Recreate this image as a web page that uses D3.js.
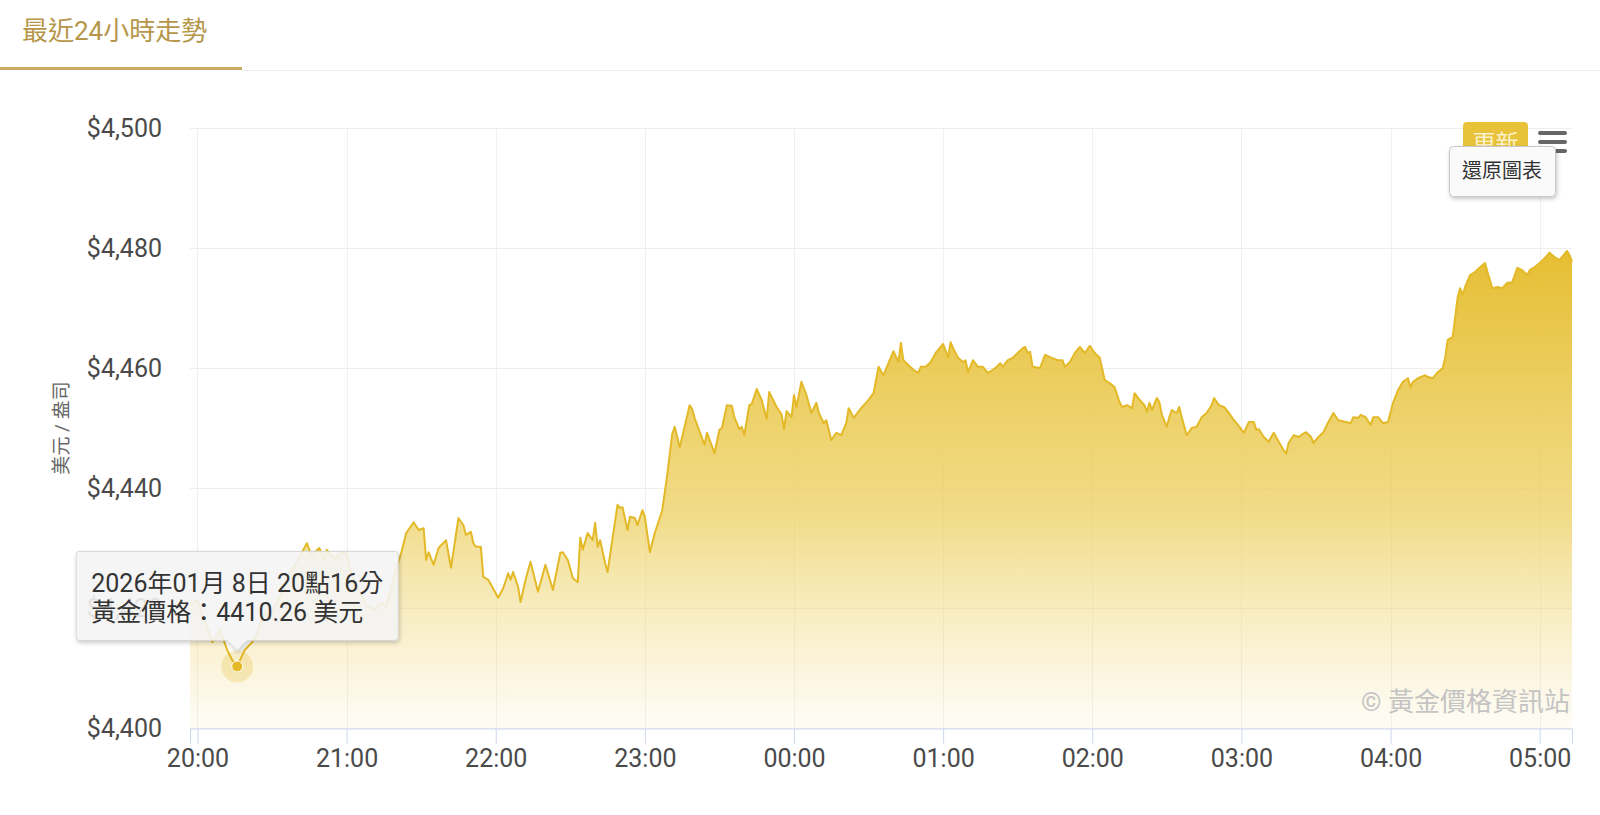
<!DOCTYPE html>
<html>
<head>
<meta charset="utf-8">
<script src="https://cdn.jsdelivr.net/npm/d3@7"></script>
<style>
  body { margin: 0; background: #fff; }
  svg text { font-family: Roboto, "Noto Sans CJK TC", sans-serif; }
</style>
</head>
<body>
<div id="chart"></div>
<script>
// gold price, last 24h view (zoomed to 19:57 - 05:13)
var times = [
  "19:57","20:00","20:02","20:04","20:06","20:09","20:12","20:14","20:16","20:19",
  "20:22","20:24","20:27","20:29","20:33","20:35","20:37","20:40","20:43","20:44",
  "20:46","20:49","20:51","20:52","20:55","20:58","21:00","21:02","21:05","21:08",
  "21:11","21:14","21:16","21:19","21:22","21:24","21:27","21:29","21:31","21:32",
  "21:33","21:35","21:37","21:40","21:42","21:45","21:47","21:48","21:50","21:51",
  "21:52","21:54","21:55","21:57","22:01","22:03","22:05","22:06","22:07","22:09",
  "22:10","22:12","22:14","22:17","22:20","22:23","22:26","22:27","22:29","22:31",
  "22:33","22:34","22:35","22:37","22:39","22:40","22:41","22:42","22:44","22:45",
  "22:49","22:50","22:51","22:53","22:54","22:56","22:57","22:59","23:00","23:02",
  "23:04","23:07","23:09","23:11","23:12","23:14","23:16","23:18","23:19","23:20",
  "23:24","23:25","23:28","23:30","23:31","23:33","23:35","23:36","23:38","23:39",
  "23:40","23:42","23:43","23:45","23:47","23:49","23:50","23:53","23:55","23:56",
  "23:57","23:59","00:00","00:01","00:03","00:05","00:07","00:09","00:10","00:12",
  "00:13","00:15","00:17","00:19","00:21","00:22","00:24","00:27","00:30","00:32",
  "00:34","00:36","00:40","00:42","00:43","00:44","00:46","00:48","00:50","00:51",
  "00:53","00:55","00:57","00:59","01:00","01:02","01:03","01:04","01:06","01:08",
  "01:09","01:10","01:12","01:14","01:16","01:18","01:20","01:21","01:23","01:24",
  "01:26","01:28","01:30","01:32","01:33","01:34","01:35","01:36","01:39","01:41",
  "01:43","01:46","01:48","01:49","01:51","01:53","01:55","01:57","01:59","02:01",
  "02:03","02:05","02:07","02:09","02:11","02:12","02:14","02:16","02:17","02:19",
  "02:21","02:22","02:23","02:24","02:26","02:27","02:28","02:30","02:31","02:32",
  "02:34","02:35","02:36","02:38","02:40","02:42","02:44","02:46","02:48","02:49",
  "02:51","02:53","02:55","02:57","02:59","03:01","03:03","03:05","03:06","03:07",
  "03:09","03:11","03:12","03:13","03:15","03:17","03:18","03:19","03:21","03:23",
  "03:24","03:26","03:28","03:29","03:31","03:33","03:35","03:37","03:39","03:42",
  "03:44","03:45","03:47","03:48","03:50","03:52","03:53","03:55","03:57","03:59",
  "04:01","04:03","04:05","04:07","04:08","04:09","04:11","04:14","04:15","04:17",
  "04:19","04:21","04:22","04:23","04:25","04:26","04:27","04:28","04:29","04:30",
  "04:32","04:34","04:36","04:38","04:39","04:41","04:43","04:45","04:47","04:49",
  "04:51","04:53","04:55","04:56","04:58","05:00","05:02","05:04","05:06","05:08",
  "05:09","05:11","05:12","05:13"
];

var prices = [
  4420.5,4421.3,4418.8,4416.7,4414.3,4416.3,4413.0,4411.3,4410.26,4413.0,
  4414.3,4415.8,4419.3,4418.3,4421.7,4423.8,4425.8,4427.7,4430.0,4430.8,
  4428.7,4430.0,4428.0,4429.7,4428.3,4429.3,4429.2,4425.5,4423.0,4420.5,
  4419.7,4420.8,4420.3,4425.2,4429.2,4432.5,4434.3,4433.0,4433.3,4428.0,
  4429.3,4427.2,4430.0,4431.3,4426.7,4435.0,4433.8,4432.2,4432.7,4430.8,
  4430.2,4430.2,4425.2,4424.7,4421.7,4423.3,4425.8,4424.7,4426.0,4423.5,
  4421.0,4424.7,4427.7,4422.7,4427.2,4423.0,4429.2,4429.3,4428.0,4425.0,
  4424.3,4431.7,4429.7,4432.5,4431.3,4434.2,4430.2,4431.3,4427.5,4426.0,
  4437.2,4436.7,4436.8,4433.0,4435.2,4435.0,4433.8,4436.3,4435.2,4429.3,
  4432.5,4436.3,4442.2,4449.0,4450.2,4446.8,4450.2,4453.8,4453.2,4451.7,
  4447.2,4449.2,4445.8,4449.7,4450.0,4453.8,4453.7,4451.8,4449.8,4450.2,
  4448.8,4453.8,4454.0,4456.5,4454.7,4451.5,4456.0,4453.5,4452.3,4449.8,
  4452.8,4451.8,4455.5,4453.5,4457.7,4455.5,4452.5,4454.2,4452.5,4450.8,
  4451.3,4448.0,4449.2,4448.8,4450.8,4453.3,4451.7,4453.3,4454.7,4455.8,
  4460.2,4458.8,4462.8,4461.0,4464.2,4461.3,4460.5,4459.7,4459.2,4460.2,
  4460.2,4461.0,4462.5,4463.5,4464.0,4461.8,4464.3,4463.3,4461.7,4461.0,
  4461.3,4459.3,4461.3,4460.2,4460.2,4459.2,4459.7,4460.0,4460.8,4460.2,
  4461.3,4461.7,4462.5,4463.3,4463.5,4462.5,4462.7,4460.2,4460.0,4462.2,
  4461.8,4461.3,4461.3,4460.2,4461.0,4462.5,4463.5,4462.5,4463.7,4462.5,
  4461.7,4458.0,4457.5,4456.8,4454.3,4453.5,4453.8,4453.3,4455.8,4454.7,
  4453.8,4452.7,4454.2,4453.0,4455.0,4454.3,4452.2,4450.2,4451.8,4453.0,
  4452.5,4453.5,4451.8,4448.8,4450.0,4450.2,4451.8,4452.5,4453.8,4455.0,
  4453.8,4453.5,4452.5,4451.3,4450.3,4449.2,4451.0,4451.0,4449.7,4449.8,
  4448.5,4447.7,4448.5,4449.2,4447.7,4446.3,4445.7,4447.5,4448.8,4448.5,
  4448.8,4449.3,4448.5,4447.5,4448.5,4449.3,4451.0,4452.5,4451.3,4451.0,
  4450.8,4451.8,4451.7,4452.2,4451.8,4450.5,4451.8,4451.8,4450.8,4451.0,
  4454.2,4456.3,4457.7,4458.3,4456.8,4457.7,4458.3,4458.8,4458.5,4458.3,
  4459.3,4460.0,4461.8,4464.7,4465.2,4468.5,4471.8,4473.3,4472.2,4473.5,
  4475.5,4476.0,4476.8,4477.5,4476.0,4473.3,4473.5,4473.3,4474.2,4474.3,
  4476.7,4476.3,4475.5,4476.3,4476.8,4477.5,4478.3,4479.2,4478.5,4478.0,
  4478.5,4479.5,4478.8,4477.7
];

var yTicks = [4400, 4420, 4440, 4460, 4480, 4500];
var tabTitle = "最近24小時走勢";
var yTitle = "美元 / 盎司";
var creditText = "© 黃金價格資訊站";
var hoverTime = "20:16";
var hoverDateText = "2026年01月 8日 20點16分";

var width = 1600, height = 815;
var plotLeft = 190, plotRight = 1572, plotTop = 128, plotBottom = 728;

// times after midnight belong to the next day
function toDate(s) {
  var p = s.split(":"), h = +p[0], m = +p[1];
  return new Date(2026, 0, h < 12 ? 9 : 8, h, m);
}

var data = times.map(function(t, i) { return { t: t, date: toDate(t), v: prices[i] }; });

var svg = d3.select("#chart").append("svg")
    .attr("width", width)
    .attr("height", height);

var defs = svg.append("defs");

var grad = defs.append("linearGradient")
    .attr("id", "goldFill")
    .attr("x1", 0).attr("y1", 0).attr("x2", 0).attr("y2", 1);
grad.append("stop").attr("offset", "0%").attr("stop-color", "#e6be32").attr("stop-opacity", 1);
grad.append("stop").attr("offset", "55%").attr("stop-color", "#eccf5f").attr("stop-opacity", 0.75);
grad.append("stop").attr("offset", "100%").attr("stop-color", "#f3dc8a").attr("stop-opacity", 0.08);

var shadow = defs.append("filter").attr("id", "shadow")
    .attr("x", "-10%").attr("y", "-10%").attr("width", "130%").attr("height", "140%");
shadow.append("feDropShadow")
    .attr("dx", 1).attr("dy", 2).attr("stdDeviation", 2)
    .attr("flood-color", "#000").attr("flood-opacity", 0.22);

// tab header
svg.append("text")
    .attr("x", 22).attr("y", 40)
    .attr("font-size", 26)
    .attr("fill", "#b5964a")
    .text(tabTitle);
svg.append("line")
    .attr("x1", 242).attr("x2", width).attr("y1", 70.5).attr("y2", 70.5)
    .attr("stroke", "#ececec").attr("stroke-width", 1);
svg.append("rect")
    .attr("x", 0).attr("y", 67).attr("width", 242).attr("height", 3)
    .attr("fill", "#c6aa66");

var x = d3.scaleTime()
    .domain(d3.extent(data, function(d) { return d.date; }))
    .range([plotLeft, plotRight]);

var y = d3.scaleLinear()
    .domain([4400, 4500])
    .range([plotBottom, plotTop]);

var hourTicks = x.ticks(d3.timeHour.every(1));

// grid
var grid = svg.append("g");
grid.selectAll(".vgrid")
  .data(hourTicks)
  .enter().append("line")
    .attr("x1", function(d) { return Math.round(x(d)) + 0.5; })
    .attr("x2", function(d) { return Math.round(x(d)) + 0.5; })
    .attr("y1", plotTop).attr("y2", plotBottom)
    .attr("stroke", "#f0f0f0");
grid.selectAll(".hgrid")
  .data(yTicks)
  .enter().append("line")
    .attr("x1", plotLeft).attr("x2", plotRight)
    .attr("y1", function(d) { return Math.round(y(d)) + 0.5; })
    .attr("y2", function(d) { return Math.round(y(d)) + 0.5; })
    .attr("stroke", "#eeeeee");

// area + line
var area = d3.area()
    .x(function(d) { return x(d.date); })
    .y0(plotBottom)
    .y1(function(d) { return y(d.v); });

var line = d3.line()
    .x(function(d) { return x(d.date); })
    .y(function(d) { return y(d.v); });

svg.append("path")
    .datum(data)
    .attr("d", area)
    .attr("fill", "url(#goldFill)");

svg.append("path")
    .datum(data)
    .attr("d", line)
    .attr("fill", "none")
    .attr("stroke", "#e3b928")
    .attr("stroke-width", 2)
    .attr("stroke-linejoin", "round");

// x axis
var xAxis = d3.axisBottom(x)
    .ticks(d3.timeHour.every(1))
    .tickFormat(d3.timeFormat("%H:%M"))
    .tickSize(15)
    .tickPadding(6);

var gx = svg.append("g")
    .attr("transform", "translate(0," + (plotBottom + 0.5) + ")")
    .call(xAxis);
gx.select(".domain").attr("stroke", "#ccd6eb");
gx.selectAll(".tick line").attr("stroke", "#ccd6eb");
gx.selectAll(".tick text")
    .attr("font-size", 25)
    .attr("fill", "#4a4a4a")
    .attr("font-family", "Roboto, sans-serif");

// y axis labels
svg.selectAll(".ylab")
  .data(yTicks)
  .enter().append("text")
    .attr("x", 162)
    .attr("y", function(d) { return y(d) + 9; })
    .attr("text-anchor", "end")
    .attr("font-size", 25)
    .attr("fill", "#4a4a4a")
    .text(function(d) { return "$" + d3.format(",")(d); });

svg.append("text")
    .attr("transform", "translate(68," + ((plotTop + plotBottom) / 2) + ") rotate(-90)")
    .attr("text-anchor", "middle")
    .attr("font-size", 19)
    .attr("fill", "#666")
    .text(yTitle);

// credits
svg.append("text")
    .attr("x", 1570).attr("y", 711)
    .attr("text-anchor", "end")
    .attr("font-size", 26)
    .attr("fill", "#c4c4c4")
    .text(creditText);

// hovered point
var hp = data.find(function(d) { return d.t === hoverTime; });
var px = x(hp.date), py = y(hp.v);

svg.append("circle")
    .attr("cx", px).attr("cy", py).attr("r", 16)
    .attr("fill", "#e3b928").attr("fill-opacity", 0.25);
svg.append("circle")
    .attr("cx", px).attr("cy", py).attr("r", 5.5)
    .attr("fill", "#e3b928").attr("stroke", "#fff").attr("stroke-width", 1);

// tooltip
var tip = svg.append("g").attr("filter", "url(#shadow)");
var tipPath = tip.append("path")
    .attr("fill", "rgba(247,247,247,0.87)")
    .attr("stroke", "#d6d6d6")
    .attr("stroke-width", 1);
var tipText = svg.append("g");
var t1 = tipText.append("text").attr("font-size", 25).attr("fill", "#333").text(hoverDateText);
var t2 = tipText.append("text").attr("font-size", 25).attr("fill", "#333")
    .text("黃金價格：" + d3.format(".2f")(hp.v) + " 美元");

var tw = Math.max(t1.node().getComputedTextLength(), t2.node().getComputedTextLength()) + 30;
var th = 89, r = 3;
var bx = px - tw / 2, by = py - 26 - th;
t1.attr("x", bx + 15).attr("y", by + 41);
t2.attr("x", bx + 15).attr("y", by + 70);

var p = d3.path();
p.moveTo(bx + r, by);
p.lineTo(bx + tw - r, by);
p.arcTo(bx + tw, by, bx + tw, by + r, r);
p.lineTo(bx + tw, by + th - r);
p.arcTo(bx + tw, by + th, bx + tw - r, by + th, r);
p.lineTo(px + 10, by + th);
p.lineTo(px, py - 16);
p.lineTo(px - 10, by + th);
p.lineTo(bx + r, by + th);
p.arcTo(bx, by + th, bx, by + th - r, r);
p.lineTo(bx, by + r);
p.arcTo(bx, by, bx + r, by, r);
p.closePath();
tipPath.attr("d", p.toString());

// update button + menu
svg.append("rect")
    .attr("x", 1463).attr("y", 122).attr("width", 65).attr("height", 40).attr("rx", 4)
    .attr("fill", "#e8c33a");
svg.append("text")
    .attr("x", 1495.5).attr("y", 151)
    .attr("text-anchor", "middle")
    .attr("font-size", 23)
    .attr("fill", "#fbf1cc")
    .text("更新");

svg.selectAll(".burger")
  .data([133, 142, 151])
  .enter().append("line")
    .attr("x1", 1540).attr("x2", 1565)
    .attr("y1", function(d) { return d; }).attr("y2", function(d) { return d; })
    .attr("stroke", "#666").attr("stroke-width", 4).attr("stroke-linecap", "round");

svg.append("rect")
    .attr("x", 1449.5).attr("y", 146.5).attr("width", 106).attr("height", 50).attr("rx", 4)
    .attr("fill", "#fafafa").attr("stroke", "#c8c8c8")
    .attr("filter", "url(#shadow)");
svg.append("text")
    .attr("x", 1502).attr("y", 178)
    .attr("text-anchor", "middle")
    .attr("font-size", 20)
    .attr("fill", "#333")
    .text("還原圖表");
</script>
</body>
</html>
